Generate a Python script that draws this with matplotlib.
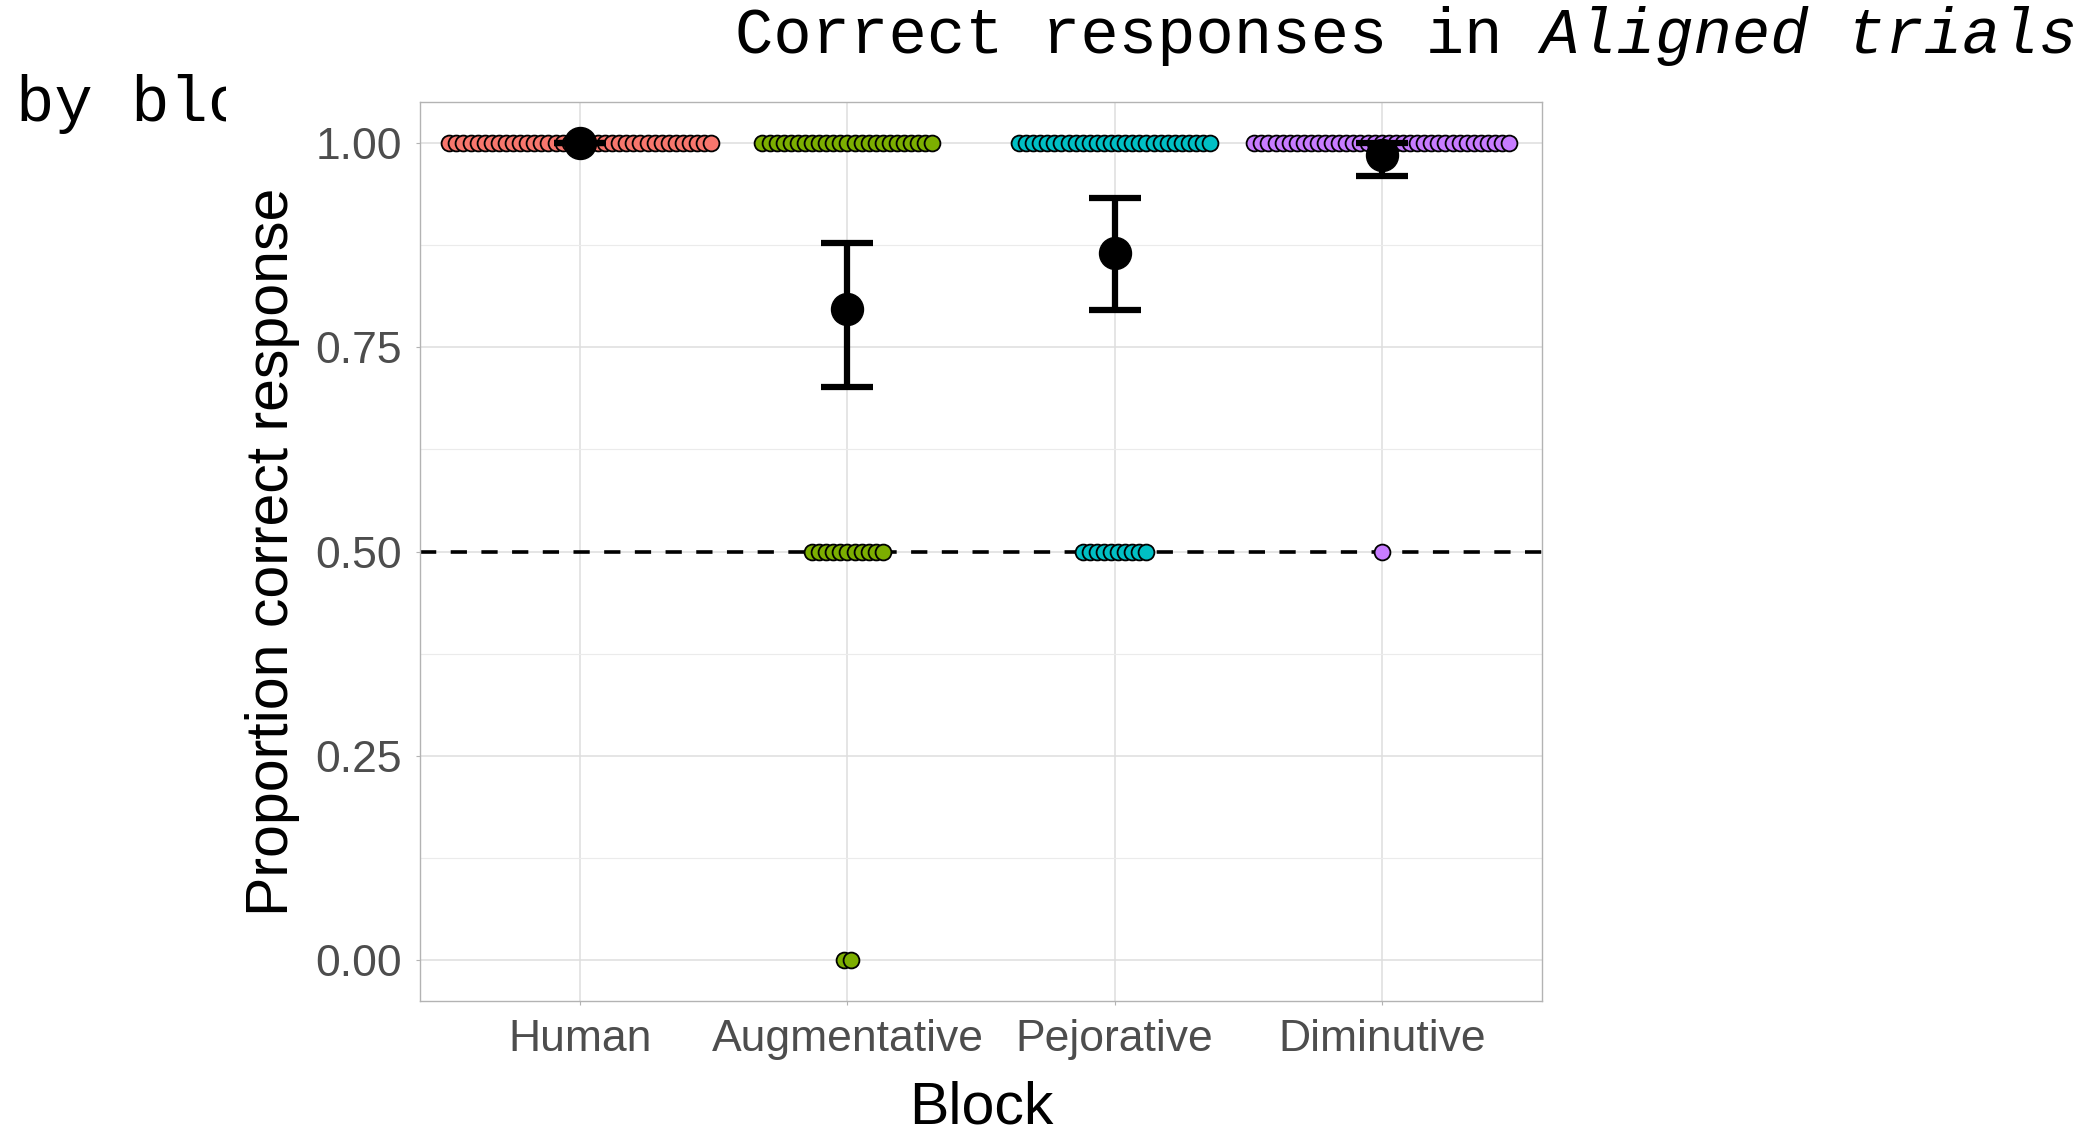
import numpy as np
import matplotlib
matplotlib.use("Agg")
import matplotlib.pyplot as plt
from matplotlib.patches import Rectangle

blocks = ["Human", "Augmentative", "Pejorative", "Diminutive"]
colors = ["#F8766D", "#7CAE00", "#00BFC4", "#C77CFF"]

# participants per block at each proportion-correct level
levels = [1.0, 0.5, 0.0]
n_at_one = [38, 25, 28, 37]
n_at_half = [0, 11, 10, 1]
n_at_zero = [0, 2, 0, 0]

# summary points
means = [1.0, 0.797, 0.865, 0.985]
ci_low = [1.0, 0.701, 0.795, 0.959]
ci_high = [1.0, 0.878, 0.932, 1.0]

yticks = [0.0, 0.25, 0.5, 0.75, 1.0]
ytick_labels = ["0.00", "0.25", "0.50", "0.75", "1.00"]

W, H = 2085, 1136
fig = plt.figure(figsize=(W / 100, H / 100), dpi=100)
ax = fig.add_axes([420 / W, 1 - 1001 / H, 1122 / W, 899 / H])

x = np.arange(1, len(blocks) + 1)
ax.set_xlim(0.4, 4.6)
ax.set_ylim(-0.05, 1.05)

# grid, theme_light style
ax.set_yticks(yticks)
ax.set_yticklabels(ytick_labels)
ax.set_yticks([0.125, 0.375, 0.625, 0.875], minor=True)
ax.set_xticks(x)
ax.set_xticklabels(blocks)
ax.grid(True, which="major", color="#DEDEDE", linewidth=1.1, zorder=0)
ax.grid(True, which="minor", axis="y", color="#EBEBEB", linewidth=0.8, zorder=0)
ax.set_axisbelow(True)
for s in ax.spines.values():
    s.set_color("#B3B3B3")
    s.set_linewidth(1.0)
ax.tick_params(which="major", length=3, color="#B3B3B3", width=0.8,
               labelsize=32, labelcolor="#4D4D4D", pad=10)
ax.tick_params(which="minor", length=0)
for lab in ax.get_xticklabels() + ax.get_yticklabels():
    lab.set_family("Liberation Sans")

# chance line
ax.axhline(0.5, color="black", linewidth=2.6, dashes=(4.5, 4), zorder=1)

# dot stacks, centred on each block
spacing = 0.0265
for i, (xc, col) in enumerate(zip(x, colors)):
    for lvl, n in zip(levels, [n_at_one[i], n_at_half[i], n_at_zero[i]]):
        if n == 0:
            continue
        offs = (np.arange(n) - (n - 1) / 2) * spacing
        for o in offs:
            ax.scatter(xc + o, lvl, s=130, color=col, edgecolors="black",
                       linewidths=1.3, zorder=3)

# mean and error bars
means = np.array(means)
yerr = np.vstack([means - np.array(ci_low), np.array(ci_high) - means])
ax.errorbar(x, means, yerr=yerr, fmt="none", ecolor="black", elinewidth=4.5,
            capsize=19, capthick=4.5, zorder=4)
ax.scatter(x, means, s=530, color="black", zorder=5)

ax.set_xlabel("Block", fontsize=42.5, family="Liberation Sans", va="baseline")
ax.xaxis.set_label_coords(0.5, (1001 - 1123) / 899)
ax.set_ylabel("Proportion correct response", fontsize=42.5,
              family="Liberation Sans", va="center")
ax.yaxis.set_label_coords((273 - 420) / 1122, 0.5)

# title in two styles
fs_title = 46
char_w = 0.6 * fs_title * 100 / 72
x0 = 735
fig.text(x0 / W, 1 - 53 / H, "Correct responses in ", fontsize=fs_title,
         family="Liberation Mono", va="baseline", ha="left")
fig.text((x0 + 21 * char_w) / W, 1 - 53 / H, "Aligned trials",
         fontsize=fs_title, family="Liberation Mono", style="italic",
         va="baseline", ha="left")

# subtitle, clipped as in the original
clip = Rectangle((0, 0.80), 226 / W, 0.2, transform=fig.transFigure,
                 visible=False)
fig.add_artist(clip)
sub = fig.text(16 / W, 1 - 121 / H, "by block", fontsize=fs_title,
               family="Liberation Mono", va="baseline", ha="left")
sub.set_clip_path(clip)

fig.savefig("out.png", dpi=100)
